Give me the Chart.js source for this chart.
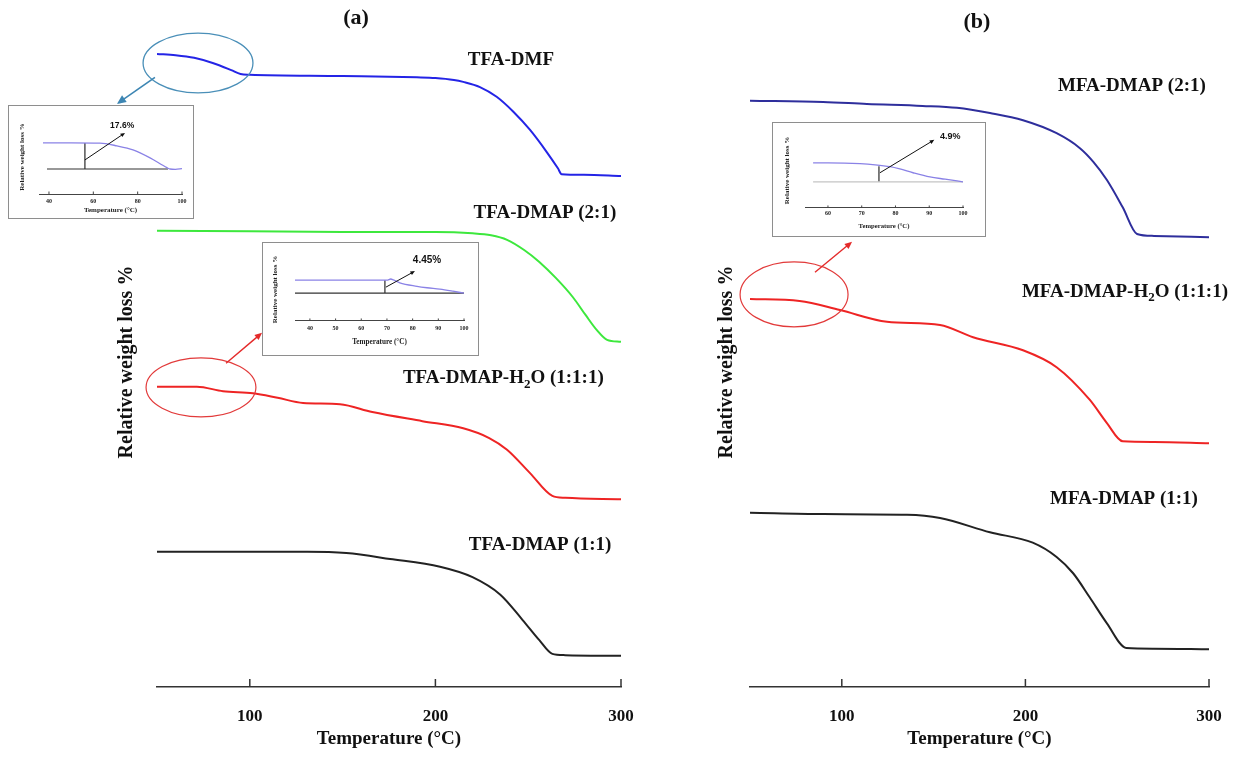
<!DOCTYPE html>
<html><head><meta charset="utf-8">
<script src="https://cdn.jsdelivr.net/npm/chart.js@4.4.1/dist/chart.umd.min.js"></script>
<style>
html,body{margin:0;padding:0;background:#fff}
body{width:1246px;height:761px;overflow:hidden;position:relative}
.box{position:absolute}
.inset{position:absolute;background:#fff;outline:1.5px solid #8e8e8e}
</style></head><body>
<div class="box" style="left:0;top:0;width:660px;height:761px"><canvas id="ca"></canvas></div>
<div class="box" style="left:660px;top:0;width:586px;height:761px"><canvas id="cb"></canvas></div>
<div class="inset" style="left:9px;top:106px;width:184px;height:112px"><canvas id="i1"></canvas></div>
<div class="inset" style="left:263px;top:243px;width:215px;height:112px"><canvas id="i2"></canvas></div>
<div class="inset" style="left:773px;top:123px;width:212px;height:113px"><canvas id="i3"></canvas></div>
<script>
// ---------------- DATA ----------------
const xTicks = [100, 200, 300];

// Panel (a)
const tfaDmfT   = [50,60,70,80,90,95,100,150,190,200,210,215,224,233,242,251,260,266,268,280,300];
const tfaDmfW   = [97.4,97.2,96.8,96.0,94.9,94.3,94.2,94.0,93.8,93.7,93.4,93.1,92.3,90.8,88.5,85.7,82.3,79.8,78.9,78.8,78.6];
const tfaDmap21T = [50,100,150,200,220,230,238.6,248,256,265,274,281,287,292.5,300];
const tfaDmap21W = [70.2,70.1,70.0,70.0,69.8,69.5,68.8,67.2,65.4,62.9,60.0,57.2,54.9,53.4,53.1];
const tfaH2oT   = [50,71.5,85.6,101.7,115,128.7,148.6,166,193,215,229,238.6,251,263,270,300];
const tfaH2oW   = [46.2,46.2,45.5,45.2,44.5,43.7,43.5,42.3,40.9,39.8,38.3,36.5,32.9,29.4,29.1,28.9];
const tfaDmap11T = [50,100,131,152,175.6,202.5,220,235,247,256,263,270,300];
const tfaDmap11W = [20.8,20.8,20.8,20.6,19.7,18.5,16.9,14.2,10.3,7.2,5.1,4.9,4.8];

// Panel (b)
const mfaDmap21T = [50,89.8,113.7,144,162.7,180.7,198.7,217,229.7,237,244.4,253,260.8,270,300];
const mfaDmap21W = [90.2,90.0,89.7,89.4,89.1,88.3,87.2,85.2,82.9,80.8,78.0,73.8,69.7,69.4,69.2];
const mfaH2oT   = [50,77,99,124.6,153.5,171.5,198.7,217,235,244.4,253,270,300];
const mfaH2oW   = [59.7,59.4,58.0,56.2,55.7,53.8,51.8,49.2,44.2,40.6,37.8,37.7,37.5];
const mfaDmap11T = [50,89.8,135.5,153.5,180.7,204,217,226,235,244.4,255,270,300];
const mfaDmap11W = [26.8,26.6,26.5,26.0,23.8,22.2,20.0,17.5,13.8,9.8,6.0,5.9,5.8];

// Inset 1 (TFA-DMF, 17.6%)
const in1Ticks = [40, 60, 80, 100];
const in1CurveT = [37.3,50,63,70.7,77.9,85.6,93.2,94.6,97,100];
const in1CurveW = [100,100.1,99.9,98.0,95.3,89.9,83.3,82.4,82.2,82.6];
const in1BaseT = [39.1, 93.7];
const in1BaseW = [82.4, 82.4];
const in1StepT = [56.2, 56.2];
const in1StepW = [100, 82.4];

// Inset 2 (TFA-DMAP-H2O, 4.45%)
const in2Ticks = [40, 50, 60, 70, 80, 90, 100];
const in2CurveT = [34.2,50,60,70,71.5,72.5,75,81.7,85.6,90.6,95.7,100];
const in2CurveW = [100,100,100,100,100.4,100.1,99.1,97.9,97.4,96.9,96.2,95.55];
const in2BaseT = [34.2, 100];
const in2BaseW = [95.55, 95.55];
const in2StepT = [69.2, 69.2];
const in2StepW = [100, 95.55];

// Inset 3 (MFA-DMAP-H2O, 4.9%)
const in3Ticks = [60, 70, 80, 90, 100];
const in3CurveT = [55.6,60,69.5,74,78.4,81.3,85.2,90.2,94.7,100];
const in3CurveW = [100.1,100.1,99.9,99.6,99.1,98.5,97.5,96.4,95.8,95.1];
const in3BaseT = [55.6, 100];
const in3BaseW = [95.1, 95.1];
const in3StepT = [75.1, 75.1];
const in3StepW = [99.2, 95.1];

// ---------------- HELPERS ----------------
const SERIF = '"Liberation Serif", "Times New Roman", serif';
const SANS = '"Liberation Sans", Arial, sans-serif';
const zip = (t, w) => t.map((x, i) => ({x: x, y: w[i]}));

function notes(items, tickLen, tickColor, tickWidth) {
  return {
    id: 'notes',
    afterDraw(chart) {
      const ctx = chart.ctx, xs = chart.scales.x, ys = chart.scales.y;
      const X = t => xs.getPixelForValue(t), Y = v => ys.getPixelForValue(v);
      ctx.save();
      ctx.strokeStyle = tickColor; ctx.lineWidth = tickWidth;
      xs.ticks.forEach(tk => {
        const px = X(tk.value);
        ctx.beginPath(); ctx.moveTo(px, ys.bottom); ctx.lineTo(px, ys.bottom - tickLen); ctx.stroke();
      });
      items.forEach(it => {
        if (it.kind === 'ellipse') {
          const cx = X(it.t), cy = Y(it.v);
          const rx = Math.abs(X(it.t + it.rt) - cx), ry = Math.abs(Y(it.v + it.rv) - cy);
          ctx.beginPath(); ctx.ellipse(cx, cy, rx, ry, 0, 0, Math.PI * 2);
          ctx.strokeStyle = it.color; ctx.lineWidth = it.width; ctx.stroke();
        } else if (it.kind === 'arrow') {
          const x1 = X(it.t1), y1 = Y(it.v1), x2 = X(it.t2), y2 = Y(it.v2);
          const a = Math.atan2(y2 - y1, x2 - x1), h = it.head;
          ctx.strokeStyle = it.color; ctx.fillStyle = it.color; ctx.lineWidth = it.width;
          ctx.beginPath(); ctx.moveTo(x1, y1);
          ctx.lineTo(x2 - h * 0.7 * Math.cos(a), y2 - h * 0.7 * Math.sin(a)); ctx.stroke();
          ctx.beginPath(); ctx.moveTo(x2, y2);
          ctx.lineTo(x2 - h * Math.cos(a - 0.42), y2 - h * Math.sin(a - 0.42));
          ctx.lineTo(x2 - h * Math.cos(a + 0.42), y2 - h * Math.sin(a + 0.42));
          ctx.closePath(); ctx.fill();
        } else if (it.kind === 'text') {
          ctx.fillStyle = it.color || '#111';
          ctx.textBaseline = 'middle';
          if (it.parts) {
            let x = X(it.t); const y = Y(it.v);
            ctx.textAlign = 'left';
            it.parts.forEach(p => {
              ctx.font = p.sub ? it.subFont : it.font;
              ctx.fillText(p.text, x, p.sub ? y + it.subShift : y);
              x += ctx.measureText(p.text).width;
            });
          } else {
            ctx.font = it.font; ctx.textAlign = it.align || 'center';
            ctx.fillText(it.text, X(it.t), Y(it.v));
          }
        }
      });
      ctx.restore();
    }
  };
}

function mainChart(id, datasets, padLeft, padRight, yTitlePb, items) {
  return new Chart(document.getElementById(id), {
    type: 'line',
    data: {datasets: datasets},
    options: {
      responsive: true, maintainAspectRatio: false, animation: false, devicePixelRatio: 1, events: [],
      layout: {padding: {left: padLeft, right: padRight, top: 37, bottom: 0}},
      plugins: {legend: {display: false}, tooltip: {enabled: false}, title: {display: false}},
      elements: {point: {radius: 0}, line: {borderWidth: 2, cubicInterpolationMode: 'monotone'}},
      scales: {
        x: {
          type: 'linear', min: 50, max: 300,
          afterBuildTicks: s => { s.ticks = xTicks.map(v => ({value: v})); },
          grid: {display: false, drawTicks: false},
          border: {display: true, color: '#333', width: 1.5},
          ticks: {padding: 19, color: '#111', font: {family: SERIF, size: 17, weight: 'bold'}, callback: v => String(v)},
          title: {display: true, text: 'Temperature (°C)', color: '#111', font: {family: SERIF, size: 19, weight: 'bold'}, padding: {top: -17.8, bottom: 10.6}}
        },
        y: {
          min: 0, max: 100,
          grid: {display: false, drawTicks: false}, border: {display: false}, ticks: {display: false},
          title: {display: true, text: 'Relative weight loss %', color: '#111', font: {family: SERIF, size: 20, weight: 'bold'}, padding: {top: 0, bottom: yTitlePb}}
        }
      }
    },
    plugins: [notes(items, 8, '#333', 1.5)]
  });
}

function insetChart(id, cfg) {
  return new Chart(document.getElementById(id), {
    type: 'line',
    data: {datasets: [
      {data: zip(cfg.curveT, cfg.curveW), borderColor: '#8a82e6', borderWidth: 1.3, cubicInterpolationMode: 'monotone'},
      {data: zip(cfg.baseT, cfg.baseW), borderColor: cfg.baseColor, borderWidth: 1.2, tension: 0},
      {data: zip(cfg.stepT, cfg.stepW), borderColor: '#555', borderWidth: 1.5, tension: 0}
    ]},
    options: {
      responsive: true, maintainAspectRatio: false, animation: false, devicePixelRatio: 1, events: [],
      layout: {padding: cfg.pad},
      plugins: {legend: {display: false}, tooltip: {enabled: false}},
      elements: {point: {radius: 0}},
      scales: {
        x: {
          type: 'linear', min: cfg.xmin, max: 100,
          afterBuildTicks: s => { s.ticks = cfg.ticks.map(v => ({value: v})); },
          grid: {display: false, drawTicks: false},
          border: {display: true, color: '#444', width: 1},
          ticks: {padding: cfg.tickPad, color: '#222', font: {family: SERIF, size: 6, weight: 'bold'}, callback: v => String(v)},
          title: {display: true, text: 'Temperature (°C)', color: '#222', font: {family: SERIF, size: cfg.titleSize, weight: 'bold'}, padding: cfg.titlePad}
        },
        y: {
          min: cfg.ymin, max: cfg.ymax,
          grid: {display: false, drawTicks: false}, border: {display: false}, ticks: {display: false},
          title: {display: true, text: 'Relative weight loss %', color: '#222', font: {family: SERIF, size: 7, weight: 'bold'}, padding: {top: 0, bottom: cfg.yPb}}
        }
      }
    },
    plugins: [notes(cfg.items, 2.5, '#444', 1)]
  });
}

// ---------------- PANEL (a) ----------------
const LBL = 'bold 19px ' + SERIF;
mainChart('ca', [
  {data: zip(tfaDmfT, tfaDmfW), borderColor: '#2424e6'},
  {data: zip(tfaDmap21T, tfaDmap21W), borderColor: '#3de83d'},
  {data: zip(tfaH2oT, tfaH2oW), borderColor: '#ee2424'},
  {data: zip(tfaDmap11T, tfaDmap11W), borderColor: '#222'}
], 115, 39, 18, [
  {kind: 'text', t: 157.2, v: 102.9, text: '(a)', font: 'bold 22px ' + SERIF},
  {kind: 'text', t: 240.7, v: 96.5, text: 'TFA-DMF', font: LBL},
  {kind: 'text', t: 259, v: 72.9, text: 'TFA-DMAP (2:1)', font: LBL},
  {kind: 'text', t: 182.5, v: 47.5, font: LBL, subFont: 'bold 13px ' + SERIF, subShift: 6,
   parts: [{text: 'TFA-DMAP-H'}, {text: '2', sub: true}, {text: 'O (1:1:1)'}]},
  {kind: 'text', t: 256.4, v: 21.8, text: 'TFA-DMAP (1:1)', font: LBL},
  {kind: 'ellipse', t: 72.1, v: 96.0, rt: 29.6, rv: 4.6, color: '#4a8fb8', width: 1.3},
  {kind: 'arrow', t1: 48.9, v1: 93.8, t2: 28.4, v2: 89.7, color: '#3d86b3', width: 1.6, head: 10},
  {kind: 'ellipse', t: 73.7, v: 46.1, rt: 29.6, rv: 4.55, color: '#e23a3a', width: 1.2},
  {kind: 'arrow', t1: 87.2, v1: 49.8, t2: 106.6, v2: 54.5, color: '#e42a2a', width: 1.4, head: 8}
]);

// ---------------- PANEL (b) ----------------
mainChart('cb', [
  {data: zip(mfaDmap21T, mfaDmap21W), borderColor: '#2e2e9c'},
  {data: zip(mfaH2oT, mfaH2oW), borderColor: '#ee2424'},
  {data: zip(mfaDmap11T, mfaDmap11W), borderColor: '#222'}
], 55, 37, 11, [
  {kind: 'text', t: 173.6, v: 102.3, text: '(b)', font: 'bold 22px ' + SERIF},
  {kind: 'text', t: 258, v: 92.5, text: 'MFA-DMAP (2:1)', font: LBL},
  {kind: 'text', t: 198.1, v: 60.8, font: LBL, subFont: 'bold 13px ' + SERIF, subShift: 6,
   parts: [{text: 'MFA-DMAP-H'}, {text: '2', sub: true}, {text: 'O (1:1:1)'}]},
  {kind: 'text', t: 253.7, v: 28.9, text: 'MFA-DMAP (1:1)', font: LBL},
  {kind: 'ellipse', t: 74.0, v: 60.4, rt: 29.4, rv: 5.0, color: '#e23a3a', width: 1.2},
  {kind: 'arrow', t1: 85.4, v1: 63.8, t2: 105.6, v2: 68.5, color: '#e42a2a', width: 1.4, head: 8}
]);

// ---------------- INSETS ----------------
insetChart('i1', {
  curveT: in1CurveT, curveW: in1CurveW, baseT: in1BaseT, baseW: in1BaseW, stepT: in1StepT, stepW: in1StepW,
  baseColor: '#333', ticks: in1Ticks, xmin: 35.5, ymin: 65.5, ymax: 115.5,
  pad: {left: 9, right: 11, top: 14, bottom: 0}, tickPad: 4, titleSize: 7, titlePad: {top: -3.2, bottom: 3.6}, yPb: 12.6,
  items: [
    {kind: 'arrow', t1: 56.2, v1: 88.5, t2: 74.3, v2: 106.8, color: '#111', width: 1, head: 5},
    {kind: 'text', t: 73, v: 111.5, text: '17.6%', font: 'bold 8.5px ' + SANS}
  ]
});
insetChart('i2', {
  curveT: in2CurveT, curveW: in2CurveW, baseT: in2BaseT, baseW: in2BaseW, stepT: in2StepT, stepW: in2StepW,
  baseColor: '#333', ticks: in2Ticks, xmin: 34.2, ymin: 86, ymax: 107.6,
  pad: {left: 8, right: 14, top: 15, bottom: 6.2}, tickPad: 4, titleSize: 7.2, titlePad: {top: 2, bottom: 2}, yPb: 15.6,
  items: [
    {kind: 'arrow', t1: 69.6, v1: 97.6, t2: 80.9, v2: 103.1, color: '#111', width: 1, head: 5},
    {kind: 'text', t: 85.6, v: 106.7, text: '4.45%', font: 'bold 10px ' + SANS}
  ]
});
insetChart('i3', {
  curveT: in3CurveT, curveW: in3CurveW, baseT: in3BaseT, baseW: in3BaseW, stepT: in3StepT, stepW: in3StepW,
  baseColor: '#c4c4c4', ticks: in3Ticks, xmin: 53.2, ymin: 88.2, ymax: 108.0,
  pad: {left: 10, right: 22, top: 10, bottom: 5.8}, tickPad: 2, titleSize: 6.7, titlePad: {top: 3, bottom: 0}, yPb: 13.6,
  items: [
    {kind: 'arrow', t1: 75.4, v1: 97.5, t2: 91.5, v2: 106.2, color: '#111', width: 1, head: 5},
    {kind: 'text', t: 96.2, v: 107.2, text: '4.9%', font: 'bold 9px ' + SANS}
  ]
});
</script>
</body></html>
